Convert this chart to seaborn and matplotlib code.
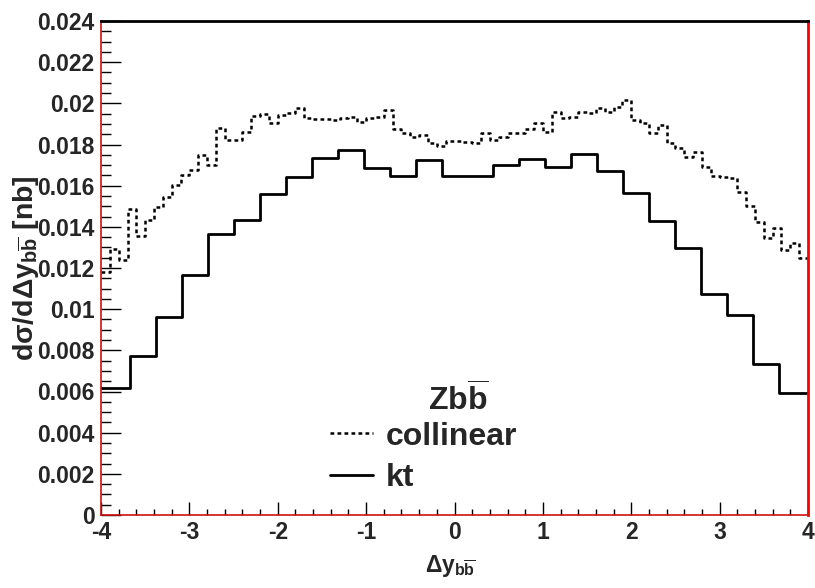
import numpy as np
import pandas as pd
import matplotlib
matplotlib.use("Agg")
import matplotlib.pyplot as plt
from matplotlib.lines import Line2D
from matplotlib.ticker import FixedLocator, MultipleLocator, FuncFormatter
import seaborn as sns

# ---- data ----
kt_edges = [-4.0, -3.669, -3.375, -3.082, -2.788, -2.495, -2.201, -1.908, -1.614,
            -1.321, -1.027, -0.734, -0.440, -0.147, 0.147, 0.440, 0.734, 1.027,
            1.321, 1.614, 1.908, 2.201, 2.495, 2.788, 3.082, 3.375, 3.669, 4.0]
kt_values = [6.16, 7.73, 9.60, 11.66, 13.64, 14.32, 15.61, 16.41, 17.36, 17.72,
             16.84, 16.49, 17.23, 16.49, 16.49, 17.00, 17.28, 16.92, 17.54, 16.71,
             15.64, 14.28, 12.96, 10.72, 9.73, 7.34, 5.94]  # x 1e-3 nb

coll_edges = [round(-4.0 + 0.1 * i, 1) for i in range(81)]
coll_values = [11.8, 12.9, 12.4, 14.85, 13.55, 14.33, 14.98, 15.46, 16.03, 16.52,
               16.76, 17.49, 17.0, 18.79, 18.22, 18.2, 18.62, 19.38, 19.5, 19.03,
               19.43, 19.55, 19.76, 19.27, 19.24, 19.24, 19.2, 19.3, 19.35, 19.08,
               19.27, 19.35, 19.68, 18.74, 18.57, 18.38, 18.46, 18.06, 17.93, 18.17,
               18.19, 18.14, 18.09, 18.54, 18.22, 18.38, 18.54, 18.57, 18.74, 19.03,
               18.62, 19.6, 19.27, 19.35, 19.6, 19.55, 19.76, 19.6, 19.84, 20.16,
               19.19, 19.03, 18.54, 18.95, 18.06, 17.82, 17.41, 17.65, 16.92, 16.47,
               16.44, 16.36, 15.71, 15.01, 14.25, 13.44, 13.93, 12.87, 13.2, 12.47]  # x 1e-3 nb

series_labels = ["collinear", "kt"]
legend_title = r"$Zb\overline{b}$"
x_label = r"$\Delta y_{b\overline{b}}$"
y_label = r"$d\sigma/d\Delta y_{b\overline{b}}$ [nb]"
x_ticks = [-4, -3, -2, -1, 0, 1, 2, 3, 4]
y_ticks = [0, 0.002, 0.004, 0.006, 0.008, 0.01, 0.012, 0.014, 0.016, 0.018, 0.02, 0.022, 0.024]

# ---- style ----
sns.set_style("ticks")
plt.rcParams["font.family"] = ["Liberation Sans", "DejaVu Sans"]
plt.rcParams["font.weight"] = "bold"
plt.rcParams["mathtext.fontset"] = "custom"
plt.rcParams["mathtext.rm"] = "Liberation Sans:bold"
plt.rcParams["mathtext.it"] = "Liberation Sans:bold"
plt.rcParams["mathtext.bf"] = "Liberation Sans:bold"
plt.rcParams["mathtext.sf"] = "Liberation Sans:bold"
plt.rcParams["axes.unicode_minus"] = False

fig = plt.figure(figsize=(8.15, 5.88), dpi=100)
W, H = 815, 588
ax = fig.add_axes([101 / W, 1 - 515 / H, (808 - 101) / W, (515 - 21) / H])


def hist_frame(edges, values):
    e = np.asarray(edges, dtype=float)
    return pd.DataFrame({"x": (e[:-1] + e[1:]) / 2,
                         "w": np.asarray(values, dtype=float) * 1e-3})


DASH = (0, (1.5, 1.3))
sns.histplot(data=hist_frame(coll_edges, coll_values), x="x", weights="w",
             bins=coll_edges, element="step", fill=False, color="black",
             linewidth=1.8, linestyle=DASH, ax=ax)
sns.histplot(data=hist_frame(kt_edges, kt_values), x="x", weights="w",
             bins=kt_edges, element="step", fill=False, color="black",
             linewidth=2.0, linestyle="-", ax=ax)

ax.set_xlim(-4, 4)
ax.set_ylim(0, 0.024)
ax.set_xlabel("")
ax.set_ylabel("")

ax.xaxis.set_major_locator(FixedLocator(x_ticks))
ax.yaxis.set_major_locator(FixedLocator(y_ticks))
ax.xaxis.set_minor_locator(MultipleLocator(0.2))
ax.yaxis.set_minor_locator(MultipleLocator(0.0005))
ax.yaxis.set_major_formatter(FuncFormatter(lambda v, p: "{:g}".format(round(v, 6))))
ax.xaxis.set_major_formatter(FuncFormatter(lambda v, p: "{:g}".format(v)))

ax.tick_params(axis="both", which="both", direction="in", top=False, right=False,
               color="black", width=1.0)
ax.tick_params(axis="y", which="major", length=14.5, pad=4.5, labelsize=16.5)
ax.tick_params(axis="y", which="minor", length=7)
ax.tick_params(axis="x", which="major", length=9.5, pad=4, labelsize=16.5)
ax.tick_params(axis="x", which="minor", length=4.5)
for lab in ax.get_xticklabels() + ax.get_yticklabels():
    lab.set_fontweight("bold")

for side in ["left", "bottom"]:
    ax.spines[side].set_color("#d01010")
    ax.spines[side].set_linewidth(1.2)
ax.spines["top"].set_color("black")
ax.spines["top"].set_linewidth(2.0)
ax.spines["right"].set_color("#ff0000")
ax.spines["right"].set_linewidth(2.0)

# axis titles
fig.text(450 / W, 1 - 566 / H, x_label, ha="center", va="center", fontsize=16.5)
fig.text(26 / W, 1 - 268 / H, y_label, ha="center", va="center", fontsize=20.5,
         rotation=90, fontweight="bold")

# legend
handles = [Line2D([], [], color="black", linewidth=1.8, linestyle=DASH),
           Line2D([], [], color="black", linewidth=2.0, linestyle="-")]
leg = ax.legend(handles, series_labels, loc="center left",
                bbox_to_anchor=(330 / W, 1 - 457.5 / H), bbox_transform=fig.transFigure,
                frameon=False, borderpad=0, borderaxespad=0, handlelength=1.35,
                handletextpad=0.4, labelspacing=0.37,
                prop={"family": "Liberation Sans", "weight": "bold", "size": 23})
fig.text(458 / W, 1 - 400 / H, legend_title, ha="center", va="center", fontsize=23)

fig.savefig("out.png", dpi=100)
